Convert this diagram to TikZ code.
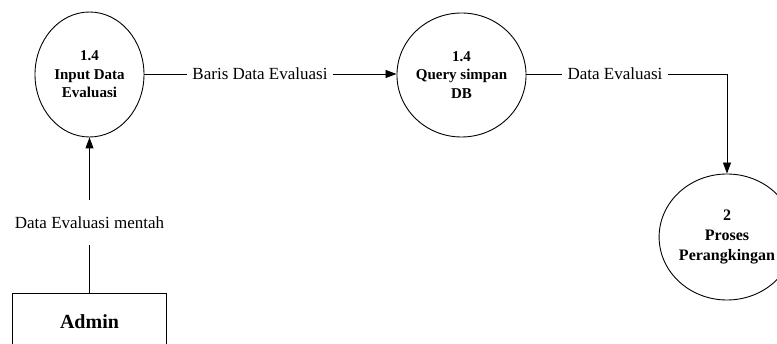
\documentclass[tikz,border=0pt]{standalone}
\usepackage{fontspec}
\setmainfont{Liberation Serif}
\usetikzlibrary{shapes.geometric,arrows.meta}
\begin{document}
\begin{tikzpicture}[x=1pt,y=-1pt,
  proc/.style={draw,ellipse,line width=0.9pt,inner sep=0pt,align=center,
    font=\fontsize{15}{18.5}\selectfont\bfseries},
  entity/.style={draw,rectangle,line width=0.9pt,inner sep=0pt,
    font=\fontsize{20}{24}\selectfont\bfseries},
  flowlabel/.style={inner xsep=5pt,inner ysep=0pt,font=\fontsize{17}{20}\selectfont},
  flow/.style={line width=0.9pt},
  arrowflow/.style={flow,-{Triangle[length=11pt,width=8pt]}}]
\useasboundingbox (0,0) rectangle (777,344);
\node[proc,minimum width=109pt,minimum height=125pt] (p1) at (89.5,74.5) {1.4\\Input Data\\Evaluasi};
\node[proc,minimum width=111pt,minimum height=124pt] (p2) at (461.5,75) {1.4\\Query simpan\\DB};
\node[proc,minimum width=108pt,minimum height=126pt,
  font=\fontsize{16}{20}\selectfont\bfseries] (p3) at (727,237) {2\\Proses\\Perangkingan};
\node[entity,minimum width=154pt,minimum height=58pt] (admin) at (89.5,322) {Admin};
\node[flowlabel] (l1) at (260,74) {Baris Data Evaluasi};
\node[flowlabel] (l2) at (615,74) {Data Evaluasi};
\node[flowlabel,minimum height=45pt] (l3) at (89.5,222.5) {Data Evaluasi mentah};
\coordinate (c) at (727,74);
\draw[flow] (p1.east |- l1.west) -- (l1.west);
\draw[arrowflow] (l1.east) -- (p2.west |- l1.east);
\draw[flow] (p2.east |- l2.west) -- (l2.west);
\draw[arrowflow] (l2.east) -- (c) -- (p3.north);
\draw[flow] (admin.north) -- (l3.south);
\draw[arrowflow] (l3.north) -- (p1.south);
\end{tikzpicture}
\end{document}
